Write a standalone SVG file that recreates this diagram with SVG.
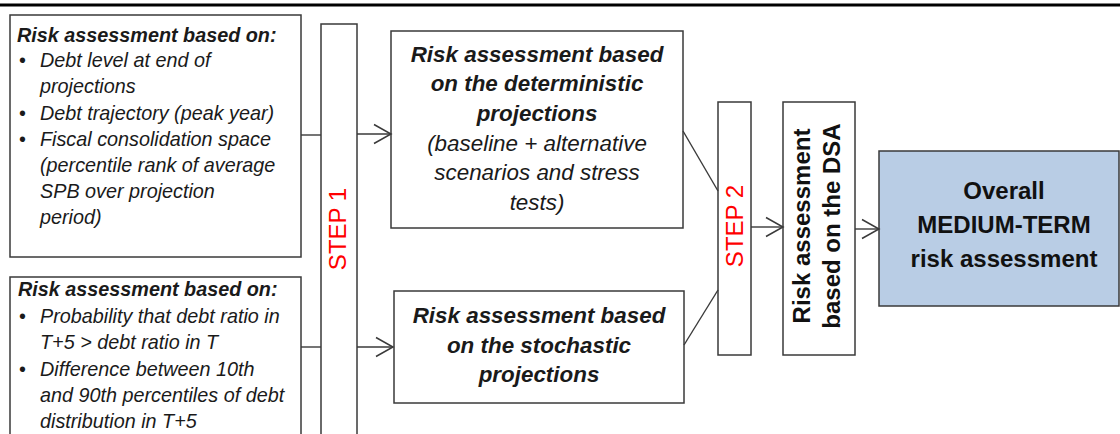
<svg xmlns="http://www.w3.org/2000/svg" width="1120" height="434" viewBox="0 0 1120 434">
<style>
.box{fill:#fff;stroke:#3a3a3a;stroke-width:1.5}
.blue{fill:#b9cde5;stroke:#3a3a3a;stroke-width:1.5}
.con{fill:none;stroke:#3a3a3a;stroke-width:1.4}
.t{font-family:"Liberation Sans",Arial,sans-serif;fill:#1a1a1a}
.lt{font-size:19.8px;font-style:italic}
.lb{font-size:19.8px;font-style:italic;font-weight:bold}
.dt{font-size:22.4px;font-style:italic;text-anchor:middle}
.db{font-size:22.4px;font-style:italic;font-weight:bold;text-anchor:middle}
.step{font-family:"Liberation Sans",Arial,sans-serif;font-size:24px;fill:#ff0000;text-anchor:middle}
.big{font-family:"Liberation Sans",Arial,sans-serif;font-size:24px;font-weight:bold;fill:#111;text-anchor:middle}
</style>
<defs>
<marker id="arr" viewBox="-19 -11 21 22" markerWidth="21" markerHeight="22" refX="0" refY="0" orient="auto" markerUnits="userSpaceOnUse">
<path d="M-17,-9.5 L0,0 L-17,9.5" fill="none" stroke="#3a3a3a" stroke-width="1.5"/>
</marker>
</defs>
<line x1="0" y1="5" x2="1120" y2="5" stroke="#000" stroke-width="3"/>

<g id="box-deterministic-criteria">
<rect class="box" x="10" y="15" width="291" height="242"/>
<text class="t lb" x="17" y="42">Risk assessment based on:</text>
<text class="t lt"><tspan x="19" y="67" font-style="normal">•</tspan><tspan x="40" y="67">Debt level at end of</tspan><tspan x="40" y="93">projections</tspan><tspan x="19" y="120" font-style="normal">•</tspan><tspan x="40" y="120">Debt trajectory  (peak year)</tspan><tspan x="19" y="146" font-style="normal">•</tspan><tspan x="40" y="146">Fiscal consolidation space</tspan><tspan x="40" y="172">(percentile rank of average</tspan><tspan x="40" y="198">SPB over projection</tspan><tspan x="40" y="224">period)</tspan></text>
</g>

<g id="box-stochastic-criteria">
<rect class="box" x="10" y="277" width="291" height="170"/>
<text class="t lb" x="18" y="296">Risk assessment based on:</text>
<text class="t lt"><tspan x="19" y="323" font-style="normal">•</tspan><tspan x="40" y="323">Probability that debt ratio  in</tspan><tspan x="40" y="349">T+5 &gt; debt ratio  in T</tspan><tspan x="19" y="376" font-style="normal">•</tspan><tspan x="40" y="376">Difference between 10th</tspan><tspan x="40" y="402">and 90th percentiles of debt</tspan><tspan x="40" y="428">distribution in T+5</tspan></text>
</g>

<g id="step1">
<rect class="box" x="321" y="24" width="36" height="420"/>
<text class="step" transform="translate(345.5,229) rotate(-90)">STEP 1</text>
</g>

<g id="det-projections">
<rect class="box" x="391" y="31" width="292" height="197"/>
<text class="t db" x="537" y="62">Risk assessment based</text>
<text class="t db" x="537" y="91">on the deterministic</text>
<text class="t db" x="537" y="121">projections</text>
<text class="t dt" x="537" y="151">(baseline + alternative</text>
<text class="t dt" x="537" y="180">scenarios and stress</text>
<text class="t dt" x="537" y="210">tests)</text>
</g>

<g id="stoch-projections">
<rect class="box" x="394" y="291" width="290" height="112"/>
<text class="t db" x="539" y="323">Risk assessment based</text>
<text class="t db" x="539" y="353">on the stochastic</text>
<text class="t db" x="539" y="382">projections</text>
</g>

<g id="step2">
<rect class="box" x="718" y="102" width="33" height="253"/>
<text class="step" transform="translate(743,226) rotate(-90)">STEP 2</text>
</g>

<g id="dsa">
<rect class="box" x="783" y="102" width="72" height="253"/>
<text class="big" transform="translate(810,226) rotate(-90)"><tspan x="0" y="0">Risk assessment</tspan><tspan x="0" y="30">based on the DSA</tspan></text>
</g>

<g id="overall">
<rect class="blue" x="879" y="151" width="240" height="155"/>
<text class="big" x="1004" y="199">Overall</text>
<text class="big" x="1004" y="233">MEDIUM-TERM</text>
<text class="big" x="1004" y="267">risk assessment</text>
</g>

<g id="connectors">
<line class="con" x1="301" y1="135" x2="321" y2="135"/>
<line class="con" x1="357" y1="134" x2="391" y2="134" marker-end="url(#arr)"/>
<line class="con" x1="301" y1="347" x2="321" y2="347"/>
<line class="con" x1="357" y1="347" x2="393" y2="347" marker-end="url(#arr)"/>
<line class="con" x1="683" y1="131" x2="718" y2="191"/>
<line class="con" x1="684" y1="345" x2="718" y2="290"/>
<line class="con" x1="751" y1="227" x2="783" y2="227" marker-end="url(#arr)"/>
<line class="con" x1="855" y1="229" x2="879" y2="229" marker-end="url(#arr)"/>
</g>
</svg>
